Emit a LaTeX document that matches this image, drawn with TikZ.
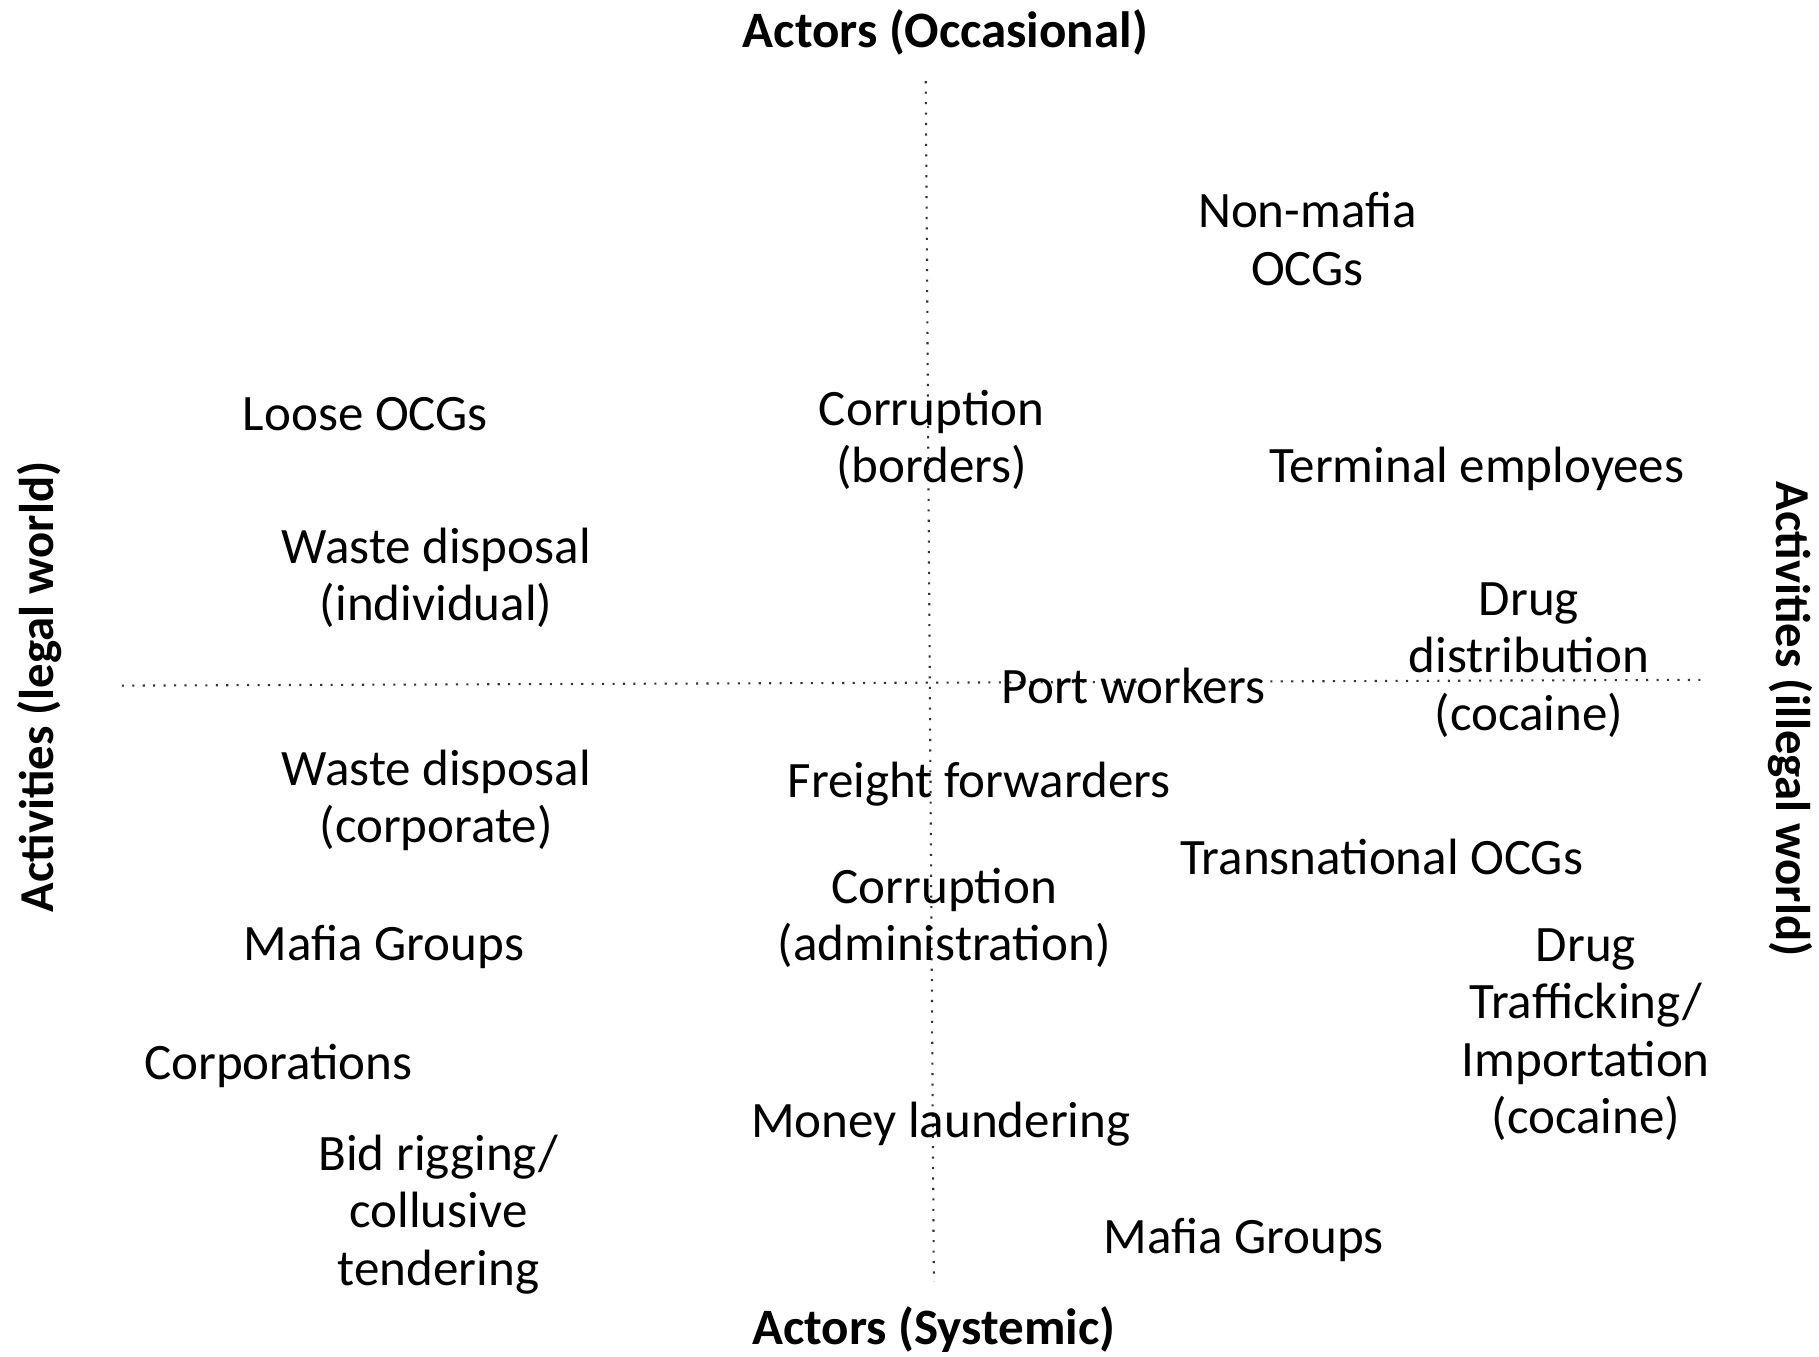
\documentclass[tikz,border=0pt]{standalone}
\usepackage{fontspec}
\setmainfont{Carlito}
\begin{document}
\begin{tikzpicture}[x=0.5pt,y=-0.5pt,
  lbl/.style={inner sep=0pt, align=center, text=black, font=\fontsize{22}{24.7}\selectfont},
  axislbl/.style={inner sep=0pt, align=center, text=black, font=\fontsize{22}{24.5}\selectfont\bfseries},
  sidelbl/.style={inner sep=0pt, align=center, text=black, font=\fontsize{21}{24}\selectfont\bfseries},
  axisline/.style={draw=black!80, line width=0.9pt, dash pattern=on 0.9pt off 3.6pt}]
\useasboundingbox[fill=white] (0,0) rectangle (1568,1169);
% axes
\coordinate (vtop) at (798,70);
\coordinate (vbot) at (805,1105);
\coordinate (hleft) at (105,591);
\coordinate (hright) at (1468,586);
\draw[axisline] (vtop) -- (vbot);
\draw[axisline] (hleft) -- (hright);
% axis labels
\node[axislbl] (occ) at (815,28) {Actors (Occasional)};
\node[axislbl] (sys) at (805,1146) {Actors (Systemic)};
\node[sidelbl, rotate=90] (legal) at (34,592) {Activities (legal world)};
\node[sidelbl, rotate=-90] (illegal) at (1543,620) {Activities (illegal world)};
% items
\node[lbl] (nonmafia) at (1127,206) {Non-mafia\\OCGs};
\node[lbl] (loose) at (315,357) {Loose OCGs};
\node[lbl] (corrb) at (803,379) {Corruption\\(borders)};
\node[lbl] (term) at (1273,404) {Terminal employees};
\node[lbl] (wasteind) at (376,498) {Waste disposal\\(individual)};
\node[lbl] (drugdist) at (1318,569) {Drug\\distribution\\(cocaine)};
\node[lbl] (port) at (977,591) {Port workers};
\node[lbl] (wastecorp) at (376,690) {Waste disposal\\(corporate)};
\node[lbl] (freight) at (844,676) {Freight forwarders};
\node[lbl] (trans) at (1191,739) {Transnational OCGs};
\node[lbl] (corra) at (814,791) {Corruption\\(administration)};
\node[lbl] (mafial) at (331,816) {Mafia Groups};
\node[lbl] (drugtraf) at (1367,892) {Drug\\Trafficking/\\Importation\\(cocaine)};
\node[lbl] (corps) at (240,919) {Corporations};
\node[lbl] (money) at (811,969) {Money laundering};
\node[lbl] (bid) at (378,1047) {Bid rigging/\\collusive\\tendering};
\node[lbl] (mafiar) at (1072,1069) {Mafia Groups};
\end{tikzpicture}
\end{document}
